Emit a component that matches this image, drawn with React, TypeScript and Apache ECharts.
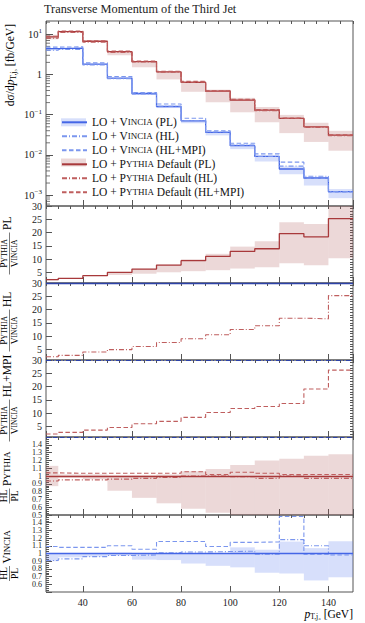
import { useEffect, useRef } from 'react';
import * as echarts from 'echarts';

// ---- data ----
const edges = [25, 30, 40, 50, 60, 70, 80, 90, 100, 110, 120, 130, 140, 150];

const vinciaPL = [4.4, 4.5, 1.8, 0.81, 0.337, 0.16, 0.0706, 0.0364, 0.017, 0.0092, 0.00447, 0.00267, 0.00122];
const vinciaHL = [4.0, 4.19, 1.73, 0.79, 0.33, 0.162, 0.072, 0.0373, 0.0175, 0.0091, 0.00527, 0.00294, 0.00122];
const vinciaHLMPI = [4.8, 4.86, 1.94, 0.89, 0.356, 0.185, 0.0815, 0.0397, 0.0195, 0.0106, 0.00662, 0.00264, 0.0012];
const pythiaPL = [8.6, 11.7, 6.7, 3.7, 2.1, 1.16, 0.64, 0.385, 0.23, 0.13, 0.081, 0.05, 0.031];
const pythiaHL = [8.04, 11.1, 6.37, 3.55, 2.04, 1.14, 0.64, 0.385, 0.228, 0.126, 0.081, 0.0485, 0.03];
const pythiaHLMPI = [8.94, 12.1, 6.93, 3.83, 2.17, 1.2, 0.675, 0.393, 0.241, 0.135, 0.0826, 0.051, 0.0316];

// relative uncertainty bands of the PL predictions
const pythiaRelLo = [0.87, 0.98, 0.96, 0.81, 0.72, 0.65, 0.58, 0.53, 0.5, 0.5, 0.43, 0.42, 0.41];
const pythiaRelHi = [1.13, 1.02, 1.02, 1.01, 1.01, 1.02, 1.06, 1.09, 1.14, 1.2, 1.22, 1.26, 1.28];
const vinciaRelLo = [0.9, 0.95, 0.96, 0.97, 0.92, 0.915, 0.87, 0.84, 0.82, 0.75, 0.74, 0.65, 0.69];
const vinciaRelHi = [1.0, 1.0, 1.0, 1.01, 1.0, 1.0, 1.0, 1.0, 1.08, 1.05, 1.155, 1.07, 1.16];

// ratio panels
const ratioPL = [2.25, 2.75, 3.75, 5.0, 6.25, 7.75, 9.4, 11.0, 12.9, 13.9, 19.6, 18.4, 25.25];
const ratioHL = [2.25, 2.75, 4.0, 4.9, 6.1, 7.6, 9.0, 10.5, 12.5, 13.9, 16.75, 16.5, 25.25];
const ratioHLMPI = [2.15, 2.75, 3.6, 4.6, 6.0, 6.9, 8.4, 10.25, 11.75, 12.5, 13.6, 19.1, 26.2];
const pythiaHLoverPL = [0.935, 0.95, 0.95, 0.96, 0.97, 0.98, 1.0, 1.0, 0.99, 0.97, 1.0, 0.97, 0.97];
const pythiaMPIoverPL = [1.04, 1.035, 1.035, 1.035, 1.035, 1.035, 1.055, 1.02, 1.048, 1.035, 1.02, 1.02, 1.02];
const vinciaHLoverPL = [0.91, 0.93, 0.96, 0.975, 0.98, 1.01, 1.02, 1.025, 1.03, 0.99, 1.18, 1.1, 1.0];
const vinciaMPIoverPL = [1.09, 1.08, 1.08, 1.1, 1.055, 1.155, 1.155, 1.09, 1.145, 1.15, 1.48, 0.99, 0.98];

const legendNames = [
  'LO + Vincia (PL)',
  'LO + Vincia (HL)',
  'LO + Vincia (HL+MPI)',
  'LO + Pythia Default (PL)',
  'LO + Pythia Default (HL)',
  'LO + Pythia Default (HL+MPI)',
];

// ---- styling ----
const FONT = 'Liberation Serif';
const INK = '#222';
const FRAME = '#555';
const RED = '#a8393b';
const RED_L = '#bf5e5e';
const BLUE = '#4466e6';
const BLUE_L = '#7b96ee';
const BLUE_D = '#2c42a8';
const RED_BAND = 'rgba(175,90,90,0.24)';
const BLUE_BAND = 'rgba(110,140,240,0.28)';
const DASH = [4.5, 2.5];
const DASHDOT = [5, 2, 1, 2];

const gridTops = [21, 206, 283, 360, 437, 515];
const gridHeights = [185, 77, 77, 77, 78, 77];

const steps = (vals: number[]) => edges.map((e, i) => [e, vals[Math.min(i, vals.length - 1)]]);
const mul = (a: number[], b: number[]) => a.map((v, i) => v * b[i]);

const scText = (name: string) =>
  name
    .split(/(Vincia|Pythia)/)
    .filter((p) => p.length > 0)
    .map((p) => (p === 'Vincia' ? '{r|V}{s|INCIA}' : p === 'Pythia' ? '{r|P}{s|YTHIA}' : `{r|${p}}`))
    .join('');

const legendRich = {
  r: { fontFamily: FONT, fontSize: 11.5, lineHeight: 12, color: '#111' },
  s: { fontFamily: FONT, fontSize: 9, lineHeight: 12, color: '#111' },
};

function bandSeries(name: string, lo: number[], hi: number[], xi: number, yi: number, color: string) {
  return {
    name,
    type: 'custom',
    xAxisIndex: xi,
    yAxisIndex: yi,
    silent: true,
    itemStyle: { color },
    encode: { x: [0, 1], y: [2, 3] },
    data: lo.map((l, i) => [edges[i], edges[i + 1], l, hi[i]]),
    renderItem: (params: any, api: any) => {
      const a = api.coord([api.value(0), api.value(3)]);
      const b = api.coord([api.value(1), api.value(2)]);
      const cs = params.coordSys;
      const rect = echarts.graphic.clipRectByRect(
        { x: a[0], y: a[1], width: b[0] - a[0], height: b[1] - a[1] },
        { x: cs.x, y: cs.y, width: cs.width, height: cs.height }
      );
      if (!rect) return null;
      return { type: 'rect', shape: rect, style: { fill: color } };
    },
  };
}

function stepLine(name: string, vals: number[], xi: number, yi: number, color: string, type: any, width = 1.1) {
  return {
    name,
    type: 'line',
    step: 'end',
    symbol: 'none',
    xAxisIndex: xi,
    yAxisIndex: yi,
    silent: true,
    lineStyle: { color, width, type },
    itemStyle: { color },
    data: steps(vals),
  };
}

function unityLine(color: string, type: any, width = 1.1) {
  return {
    silent: true,
    symbol: ['none', 'none'],
    label: { show: false },
    lineStyle: { color, type, width },
    data: [{ yAxis: 1 }],
  };
}

const fracRich = {
  a: { fontFamily: FONT, fontSize: 9.5, lineHeight: 9, color: INK },
  b: { fontFamily: FONT, fontSize: 7.5, lineHeight: 9, color: INK },
  L: { fontFamily: FONT, fontSize: 11.5, lineHeight: 13, color: INK },
  Ls: { fontFamily: FONT, fontSize: 9, lineHeight: 13, color: INK },
};

function fracTitle(cy: number, num: string, den: string, suffix: string, fw: number, shift: number) {
  const fx = shift;
  return {
    type: 'group',
    x: 9.5,
    y: cy,
    rotation: Math.PI / 2,
    children: [
      {
        type: 'text',
        x: fx,
        y: -0.8,
        style: { text: num, rich: fracRich, align: 'center', verticalAlign: 'bottom' },
      },
      {
        type: 'line',
        shape: { x1: fx - fw / 2, y1: 0, x2: fx + fw / 2, y2: 0 },
        style: { stroke: INK, lineWidth: 0.6 },
      },
      {
        type: 'text',
        x: fx,
        y: 0.8,
        style: { text: den, rich: fracRich, align: 'center', verticalAlign: 'top' },
      },
      {
        type: 'text',
        x: fx + fw / 2 + 2.5,
        y: -2.5,
        style: { text: suffix, rich: fracRich, align: 'left', verticalAlign: 'middle' },
      },
    ],
  };
}

export default function App() {
  const ref = useRef<HTMLDivElement>(null);

  useEffect(() => {
    if (!ref.current) return;
    const chart = echarts.init(ref.current, undefined, { renderer: 'svg' });

    const grid = gridTops.map((t, i) => ({
      left: 46,
      right: 12,
      top: t,
      height: gridHeights[i],
      show: true,
      borderColor: FRAME,
      borderWidth: 1,
      backgroundColor: 'transparent',
    }));

    const xAxis: any[] = [];
    gridTops.forEach((_, i) => {
      xAxis.push({
        type: 'value',
        gridIndex: i,
        min: 25,
        max: 150,
        minInterval: 20,
        maxInterval: 20,
        axisLine: { show: false },
        axisTick: { show: true, inside: true, length: 6, lineStyle: { color: FRAME, width: 1 } },
        axisLabel: {
          show: i === 5,
          showMinLabel: false,
          showMaxLabel: false,
          fontFamily: FONT,
          fontSize: 10,
          lineHeight: 10,
          color: INK,
          margin: 5,
        },
        splitLine: { show: false },
      });
      xAxis.push({
        type: 'value',
        gridIndex: i,
        min: 25,
        max: 150,
        interval: 5,
        axisLine: { show: false },
        axisTick: { show: true, inside: true, length: 3, lineStyle: { color: FRAME, width: 1 } },
        axisLabel: { show: false },
        splitLine: { show: false },
      });
    });

    const labelBase = { fontFamily: FONT, color: INK, margin: 4 };
    const yAxis: any[] = [
      {
        type: 'log',
        gridIndex: 0,
        logBase: 10,
        min: Math.pow(10, -3.27),
        max: Math.pow(10, 1.33),
        axisLine: { show: false },
        axisTick: { show: true, inside: true, length: 7, lineStyle: { color: FRAME } },
        splitLine: { show: false },
        axisLabel: {
          ...labelBase,
          showMinLabel: false,
          showMaxLabel: false,
          formatter: (v: number) => {
            const e = Math.round(Math.log10(v));
            if (e === 0) return '{b|1}';
            return `{b|10}{sup|${e < 0 ? '−' : ''}${Math.abs(e)}}`;
          },
          rich: {
            b: { fontFamily: FONT, fontSize: 10.5, lineHeight: 13, color: INK },
            sup: { fontFamily: FONT, fontSize: 7, lineHeight: 7, verticalAlign: 'top', color: INK },
          },
        },
      },
    ];
    [1, 2, 3].forEach((g) => {
      yAxis.push({
        type: 'value',
        gridIndex: g,
        min: 1,
        max: 30,
        minInterval: 5,
        maxInterval: 5,
        axisLine: { show: false },
        axisTick: { show: true, inside: true, length: 6, lineStyle: { color: FRAME } },
        splitLine: { show: false },
        axisLabel: { ...labelBase, fontSize: 10, lineHeight: 10, showMinLabel: false },
      });
      yAxis.push({
        type: 'value',
        gridIndex: g,
        min: 1,
        max: 30,
        interval: 1,
        axisLine: { show: false },
        axisTick: { show: true, inside: true, length: 3, lineStyle: { color: FRAME } },
        splitLine: { show: false },
        axisLabel: { show: false },
      });
    });
    [4, 5].forEach((g) => {
      yAxis.push({
        type: 'value',
        gridIndex: g,
        min: 0.5,
        max: 1.5,
        interval: 0.1,
        axisLine: { show: false },
        axisTick: { show: true, inside: true, length: 6, lineStyle: { color: FRAME } },
        minorTick: { show: true, splitNumber: 4, length: 3, lineStyle: { color: FRAME } },
        splitLine: { show: false },
        axisLabel: {
          ...labelBase,
          fontSize: 8,
          lineHeight: 7.5,
          showMaxLabel: false,
          formatter: (v: number) => String(Math.round(v * 10) / 10),
        },
      });
    });

    // minor ticks for the log axis (2..9 within each decade)
    const minorLog: number[][] = [];
    for (let e = -4; e <= 1; e++) {
      for (let k = 2; k <= 9; k++) {
        const v = k * Math.pow(10, e);
        if (v > Math.pow(10, -3.27) && v < Math.pow(10, 1.33)) minorLog.push([25, v]);
      }
    }

    const series: any[] = [
      // main panel
      bandSeries('bandP', mul(pythiaPL, pythiaRelLo), mul(pythiaPL, pythiaRelHi), 0, 0, RED_BAND),
      bandSeries('bandV', mul(vinciaPL, vinciaRelLo), mul(vinciaPL, vinciaRelHi), 0, 0, BLUE_BAND),
      stepLine(legendNames[0], vinciaPL, 0, 0, BLUE, 'solid', 1.3),
      stepLine(legendNames[1], vinciaHL, 0, 0, BLUE_L, DASHDOT),
      stepLine(legendNames[2], vinciaHLMPI, 0, 0, BLUE_L, DASH),
      stepLine(legendNames[3], pythiaPL, 0, 0, RED, 'solid', 1.3),
      stepLine(legendNames[4], pythiaHL, 0, 0, RED_L, DASHDOT),
      stepLine(legendNames[5], pythiaHLMPI, 0, 0, RED_L, DASH),
      {
        name: 'minorLogTicks',
        type: 'custom',
        xAxisIndex: 0,
        yAxisIndex: 0,
        silent: true,
        encode: { x: 0, y: 1 },
        data: minorLog,
        renderItem: (_p: any, api: any) => {
          const pt = api.coord([api.value(0), api.value(1)]);
          return {
            type: 'line',
            shape: { x1: pt[0], y1: pt[1], x2: pt[0] + 4, y2: pt[1] },
            style: { stroke: FRAME, lineWidth: 0.8 },
          };
        },
      },
      // panel 2: PL ratio
      bandSeries('r2band', mul(ratioPL, pythiaRelLo), mul(ratioPL, pythiaRelHi), 2, 1, RED_BAND),
      { ...stepLine('r2', ratioPL, 2, 1, RED, 'solid', 1.3), markLine: unityLine(BLUE_D, 'solid', 1.3) },
      // panel 3: HL ratio
      { ...stepLine('r3', ratioHL, 4, 3, RED_L, DASHDOT), markLine: unityLine(BLUE_D, DASHDOT) },
      // panel 4: HL+MPI ratio
      { ...stepLine('r4', ratioHLMPI, 6, 5, RED_L, DASH), markLine: unityLine(BLUE_D, DASH) },
      // panel 5: Pythia HL / PL
      bandSeries('r5band', pythiaRelLo, pythiaRelHi, 8, 7, RED_BAND),
      { ...stepLine('r5a', pythiaMPIoverPL, 8, 7, RED_L, DASH), markLine: unityLine(RED, 'solid', 1.3) },
      stepLine('r5b', pythiaHLoverPL, 8, 7, RED_L, DASHDOT),
      // panel 6: Vincia HL / PL
      bandSeries('r6band', vinciaRelLo, vinciaRelHi, 10, 8, BLUE_BAND),
      { ...stepLine('r6a', vinciaMPIoverPL, 10, 8, BLUE_L, DASH), markLine: unityLine(BLUE, 'solid', 1.3) },
      stepLine('r6b', vinciaHLoverPL, 10, 8, BLUE_L, DASHDOT),
    ];

    const legendTop = 116.3;
    const rowH = 13.4;
    const legendCommon = {
      orient: 'vertical',
      left: 61,
      itemWidth: 25,
      itemHeight: 8,
      itemGap: 2.0,
      padding: 0,
      selectedMode: false,
      textStyle: { rich: legendRich },
    };

    const option: any = {
      animation: false,
      backgroundColor: '#fff',
      title: {
        text: 'Transverse Momentum of the Third Jet',
        left: 44,
        top: 2.5,
        padding: 0,
        textStyle: { fontFamily: FONT, fontSize: 12.3, fontWeight: 'normal', color: INK },
      },
      grid,
      xAxis,
      yAxis,
      legend: [
        {
          ...legendCommon,
          top: legendTop,
          z: 3,
          data: [{ name: 'bandV', icon: 'rect', itemStyle: { color: BLUE_BAND } }],
          formatter: () => '{r| }',
        },
        {
          ...legendCommon,
          top: legendTop + 3 * rowH,
          z: 3,
          data: [{ name: 'bandP', icon: 'rect', itemStyle: { color: RED_BAND } }],
          formatter: () => '{r| }',
        },
        {
          ...legendCommon,
          top: legendTop,
          z: 6,
          itemStyle: { opacity: 0, borderWidth: 0 },
          data: legendNames,
          formatter: scText,
        },
      ],
      graphic: [
        {
          type: 'text',
          x: 10,
          y: 24,
          rotation: Math.PI / 2,
          style: {
            text: '{n|dσ/d}{i|p}{sub|T,j₃}{n| [fb/GeV]}',
            align: 'right',
            verticalAlign: 'middle',
            rich: {
              n: { fontFamily: FONT, fontSize: 11.5, lineHeight: 14, color: INK },
              i: { fontFamily: FONT, fontSize: 11.5, fontStyle: 'italic', lineHeight: 14, color: INK },
              sub: { fontFamily: FONT, fontSize: 7.5, lineHeight: 14, verticalAlign: 'bottom', color: INK },
            },
          },
        },
        fracTitle(244.5, '{a|P}{b|YTHIA}', '{a|V}{b|INCIA}', '{L|PL}', 42, -9),
        fracTitle(321.5, '{a|P}{b|YTHIA}', '{a|V}{b|INCIA}', '{L|HL}', 42, -9),
        fracTitle(398.5, '{a|P}{b|YTHIA}', '{a|V}{b|INCIA}', '{L|HL+MPI}', 42, -22),
        fracTitle(476, '{a|HL}', '{a|PL}', '{L|P}{Ls|YTHIA}', 15, -20),
        fracTitle(553.5, '{a|HL}', '{a|PL}', '{L|V}{Ls|INCIA}', 15, -20),
        {
          type: 'text',
          x: 353,
          y: 614,
          style: {
            text: '{i|p}{sub|T,j₃}{n| [GeV]}',
            align: 'right',
            verticalAlign: 'middle',
            rich: {
              n: { fontFamily: FONT, fontSize: 11.5, lineHeight: 12, color: INK },
              i: { fontFamily: FONT, fontSize: 11.5, fontStyle: 'italic', lineHeight: 12, color: INK },
              sub: { fontFamily: FONT, fontSize: 7.5, lineHeight: 12, verticalAlign: 'bottom', color: INK },
            },
          },
        },
      ],
      series,
    };

    chart.setOption(option);
    return () => chart.dispose();
  }, []);

  return (
    <div
      ref={ref}
      style={{ position: 'fixed', left: 0, top: 0, width: 365, height: 623, background: '#fff' }}
    />
  );
}
